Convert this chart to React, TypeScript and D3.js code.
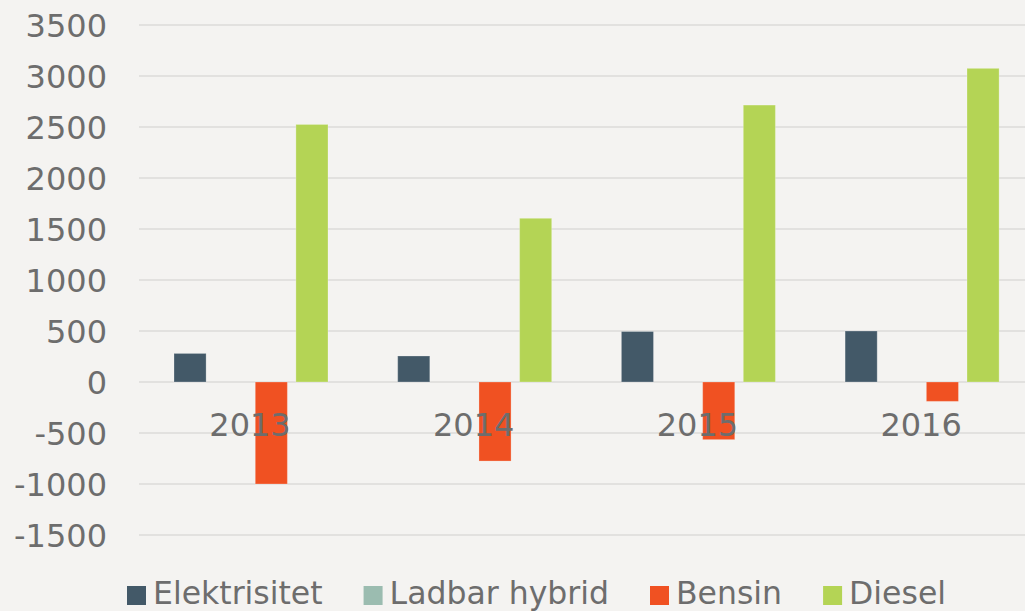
import * as d3 from 'd3';
import React, { useRef, useEffect } from 'react';

const years = ['2013', '2014', '2015', '2016'];
const seriesNames = ['Elektrisitet', 'Ladbar hybrid', 'Bensin', 'Diesel'];
const seriesColors = ['#435968', '#9bbcb0', '#f05122', '#b4d455'];

const elektrisitet = [280, 255, 495, 500];
const ladbarHybrid = [0, 0, 0, 0];
const bensin = [-1000, -775, -565, -190];
const diesel = [2525, 1605, 2715, 3075];

const yTicks = [-1500, -1000, -500, 0, 500, 1000, 1500, 2000, 2500, 3000, 3500];

const W = 1025;
const H = 611;
const textColor = '#6d6d6d';
const font = '"DejaVu Sans", Verdana, sans-serif';

export default function App() {
  const ref = useRef<SVGSVGElement>(null);

  useEffect(() => {
    const svg = d3.select(ref.current);
    svg.selectAll('*').remove();

    const values = [elektrisitet, ladbarHybrid, bensin, diesel];
    const data = years.map((yr, i) => ({
      year: yr,
      vals: seriesNames.map((s, j) => ({ key: s, value: values[j][i], color: seriesColors[j] })),
    }));

    const plotLeft = 139;
    const plotRight = W;
    const groupStep = 223.7; // plot area runs a bit past the right edge

    svg.append('rect').attr('width', W).attr('height', H).attr('fill', '#f4f3f1');

    const y = d3.scaleLinear().domain([-1500, 3500]).range([535, 25]);

    const x0 = d3.scaleBand()
      .domain(years)
      .range([plotLeft, plotLeft + groupStep * years.length])
      .padding(0);
    const groupPad = 35;
    const x1 = d3.scaleBand()
      .domain(seriesNames)
      .range([groupPad, groupPad + 154])
      .paddingInner(0.21)
      .paddingOuter(0);

    // gridlines
    svg.append('g')
      .selectAll('line')
      .data(yTicks)
      .enter().append('line')
      .attr('x1', plotLeft)
      .attr('x2', plotRight)
      .attr('y1', d => y(d))
      .attr('y2', d => y(d))
      .attr('stroke', '#dcdbd9')
      .attr('stroke-width', 1.5);

    // y labels
    svg.append('g')
      .selectAll('text')
      .data(yTicks)
      .enter().append('text')
      .attr('x', 107)
      .attr('y', d => y(d))
      .attr('dy', '0.36em')
      .attr('text-anchor', 'end')
      .style('font-family', font)
      .style('font-size', '32px')
      .attr('fill', textColor)
      .text(d => d);

    // bars
    const groups = svg.append('g')
      .selectAll('g')
      .data(data)
      .enter().append('g')
      .attr('transform', d => `translate(${x0(d.year)},0)`);

    groups.selectAll('rect')
      .data(d => d.vals.filter(v => v.value !== 0))
      .enter().append('rect')
      .attr('x', d => x1(d.key) as number)
      .attr('width', x1.bandwidth())
      .attr('y', d => y(Math.max(0, d.value)))
      .attr('height', d => Math.abs(y(d.value) - y(0)))
      .attr('fill', d => d.color)
      .attr('stroke', 'rgba(255,255,255,0.25)')
      .attr('stroke-width', 1);

    // category labels
    svg.append('g')
      .selectAll('text')
      .data(years)
      .enter().append('text')
      .attr('x', d => (x0(d) as number) + 111)
      .attr('y', 436)
      .attr('text-anchor', 'middle')
      .style('font-family', font)
      .style('font-size', '32px')
      .attr('fill', textColor)
      .text(d => d);

    // legend
    const legend = svg.append('g');
    let lx = 127;
    seriesNames.forEach((name, i) => {
      legend.append('rect')
        .attr('x', lx)
        .attr('y', 586)
        .attr('width', 19)
        .attr('height', 19)
        .attr('fill', seriesColors[i]);
      const t = legend.append('text')
        .attr('x', lx + 26)
        .attr('y', 604)
        .style('font-family', font)
        .style('font-size', '31.5px')
        .attr('fill', textColor)
        .text(name);
      const w = (t.node() as SVGTextElement).getComputedTextLength();
      lx = lx + 26 + w + 41;
    });
  }, []);

  return (
    <svg
      ref={ref}
      width={W}
      height={H}
      style={{ position: 'absolute', left: 0, top: 0, display: 'block' }}
    />
  );
}
